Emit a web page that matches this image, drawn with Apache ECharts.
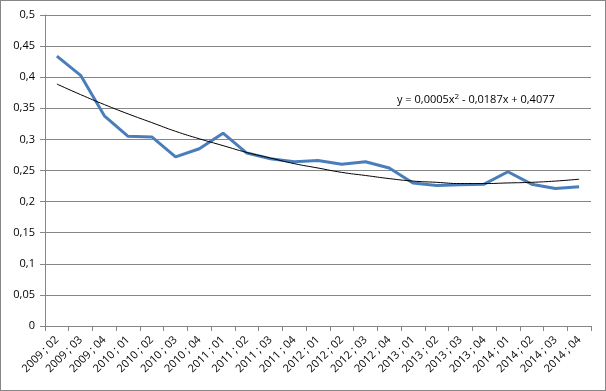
<!DOCTYPE html>
<html><head><meta charset="utf-8">
<script src="https://cdn.jsdelivr.net/npm/echarts@6/dist/echarts.min.js"></script>
<style>
html,body{margin:0;padding:0;background:#fff;}
#c{width:606px;height:391px;box-sizing:border-box;border:1px solid #868686;}
</style></head>
<body><div id="c"></div>
<script>
var categories = ["2009 ; 02","2009 ; 03","2009 ; 04",
  "2010 ; 01","2010 ; 02","2010 ; 03","2010 ; 04",
  "2011 ; 01","2011 ; 02","2011 ; 03","2011 ; 04",
  "2012 ; 01","2012 ; 02","2012 ; 03","2012 ; 04",
  "2013 ; 01","2013 ; 02","2013 ; 03","2013 ; 04",
  "2014 ; 01","2014 ; 02","2014 ; 03","2014 ; 04"];
var values = [0.434,0.403,0.338,0.305,0.304,0.272,0.285,0.310,0.278,0.269,0.264,0.266,0.260,0.264,0.254,0.230,0.226,0.227,0.228,0.248,0.228,0.221,0.224];
var trend = [0.389,0.372,0.356,0.341,0.327,0.313,0.301,0.290,0.279,0.270,0.261,0.254,0.247,0.242,0.237,0.233,0.231,0.229,0.229,0.230,0.231,0.233,0.236];
var yTicks = {min:0, max:0.5, interval:0.05};
var equation = "y = 0,0005x{sup|2} - 0,0187x + 0,4077";

var chart = echarts.init(document.getElementById('c'), null, {renderer:'canvas'});
var font = "'Open Sans', 'Liberation Sans', sans-serif";
chart.setOption({
  animation:false,
  grid:{left:44, right:14, top:14, bottom:64, containLabel:false},
  xAxis:{
    type:'category', data:categories, boundaryGap:true,
    axisLine:{lineStyle:{color:'#868686', width:1}},
    axisTick:{show:true, length:5, lineStyle:{color:'#868686'}},
    axisLabel:{rotate:45, fontSize:11, color:'#000', fontFamily:font, margin:12, interval:0},
    splitLine:{show:false}
  },
  yAxis:{
    type:'value', min:yTicks.min, max:yTicks.max, interval:yTicks.interval,
    axisLine:{show:true, lineStyle:{color:'#868686', width:1}},
    axisTick:{show:true, length:5, lineStyle:{color:'#868686'}},
    axisLabel:{fontSize:11, color:'#000', fontFamily:font, margin:10,
      formatter:function(v){return String(Math.round(v*100)/100).replace('.',',');}},
    splitLine:{show:true, lineStyle:{color:'#868686', width:1}}
  },
  series:[
    {type:'line', data:values, symbol:'none', lineStyle:{color:'#4A7EBB', width:3}, z:2},
    {type:'line', data:trend, symbol:'none', smooth:true, lineStyle:{color:'#000', width:1}, z:3}
  ],
  graphic:[{
    type:'text', left:396, top:92,
    style:{text:equation, fontSize:11, fontFamily:font, fill:'#000',
      rich:{sup:{fontSize:8, verticalAlign:'top', padding:[0,0,6,0], fontFamily:font}}}
  }]
});
</script></body></html>
